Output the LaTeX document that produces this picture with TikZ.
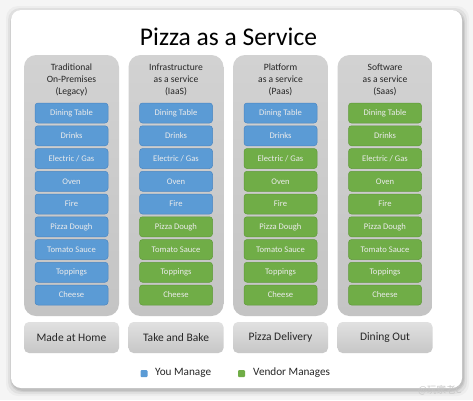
\documentclass[tikz,border=0pt]{standalone}
\usepackage{fontspec}
\setmainfont{Carlito}
\newfontfamily\cjk{Noto Sans CJK SC}
\definecolor{mblue}{HTML}{5B9BD5}
\definecolor{mblueb}{HTML}{4A86C2}
\definecolor{mgreen}{HTML}{70AD47}
\definecolor{mgreenb}{HTML}{5F9A3A}
\definecolor{colgray}{HTML}{D2D2D2}
\definecolor{colgrayb}{HTML}{C4C4C4}
\definecolor{txtdark}{HTML}{262626}
\begin{document}
\begin{tikzpicture}[x=1pt,y=-1pt,
  colbox/.style={rounded corners=12pt, top color=colgray, bottom color=colgrayb, draw=none,
    minimum width=95pt, minimum height=261pt, inner sep=0pt},
  hdr/.style={align=center, font=\fontsize{9.6}{12}\selectfont, text=txtdark, inner sep=0pt},
  item/.style={rounded corners=3pt, minimum width=73pt, minimum height=20pt, inner sep=0pt,
    font=\fontsize{8.6}{10}\selectfont, text=white!92!black},
  you/.style={item, fill=mblue, draw=mblueb, line width=0.5pt},
  ven/.style={item, fill=mgreen, draw=mgreenb, line width=0.5pt},
  botbox/.style={rounded corners=5pt, top color=white!88!black, bottom color=white!78!black,
    minimum width=95pt, minimum height=31pt, inner sep=0pt,
    font=\fontsize{11.5}{13}\selectfont, text=txtdark},
  botlbl/.style={font=\fontsize{11.5}{13}\selectfont, text=txtdark},
  legsq/.style={minimum size=7pt, inner sep=0pt, rounded corners=1pt},
  legtxt/.style={font=\fontsize{11.2}{13}\selectfont, text=txtdark, inner sep=0pt, anchor=west}
]
\useasboundingbox (0,0) rectangle (473,400);
\fill[white!96!black] (0,0) rectangle (473,400);
% panel shadow
\foreach \i/\o in {6/0.03,4/0.05,2/0.07,1/0.08}{
  \fill[black, opacity=\o, rounded corners=12pt] (11-\i+1,10-\i+2) rectangle (462+\i+1,388+\i+2);
}
\node[draw=none, fill=white, rounded corners=10pt, minimum width=451pt, minimum height=378pt,
  inner sep=0pt] (panel) at (236.5,199) {};
% title
\node[font=\fontsize{25.5}{28}\selectfont, text=black, anchor=base, inner sep=0pt] (title) at (228.5,45) {Pizza as a Service};
% columns
\foreach \c/\x in {1/71.5,2/176,3/280.5,4/385}{
  \node[colbox] (col\c) at (\x,185.5) {};
  \node[botbox] (bot\c) at (\x,337.5) {};
}
\node[hdr] (h1) at (71.5,80) {Traditional\\On-Premises\\(Legacy)};
\node[hdr] (h2) at (176,80) {Infrastructure\\as a service\\(IaaS)};
\node[hdr] (h3) at (280.5,80) {Platform\\as a service\\(Paas)};
\node[hdr] (h4) at (385,80) {Software\\as a service\\(Saas)};
% items
\foreach \k/\t in {0/{Dining Table},1/{Drinks},2/{Electric / Gas},3/{Oven},4/{Fire},5/{Pizza Dough},6/{Tomato Sauce},7/{Toppings},8/{Cheese}}{
  \pgfmathsetmacro{\yy}{113+22.75*\k}
  \node[you] (a\k) at (71.5,\yy) {\t};
  \ifnum\k<5 \node[you] (b\k) at (176,\yy) {\t}; \else \node[ven] (b\k) at (176,\yy) {\t}; \fi
  \ifnum\k<2 \node[you] (c\k) at (280.5,\yy) {\t}; \else \node[ven] (c\k) at (280.5,\yy) {\t}; \fi
  \node[ven] (d\k) at (385,\yy) {\t};
}
% bottom labels
\node[botlbl] (l1) at (bot1) {Made at Home};
\node[botlbl] (l2) at (bot2) {Take and Bake};
\node[botlbl] (l3) at (bot3) {Pizza Delivery};
\node[botlbl] (l4) at (bot4) {Dining Out};
% legend
\node[legsq, fill=mblue] (sq1) at (144,373.5) {};
\node[legtxt] (lt1) at (155,373) {You Manage};
\node[legsq, fill=mgreen] (sq2) at (241.5,373.5) {};
\node[legtxt] (lt2) at (253,373) {Vendor Manages};
% watermark
\node[font=\cjk\fontsize{9.5}{11}\selectfont, text=black!22, inner sep=0pt] (wm) at (440,390) {@玩家老C};
\end{tikzpicture}
\end{document}
